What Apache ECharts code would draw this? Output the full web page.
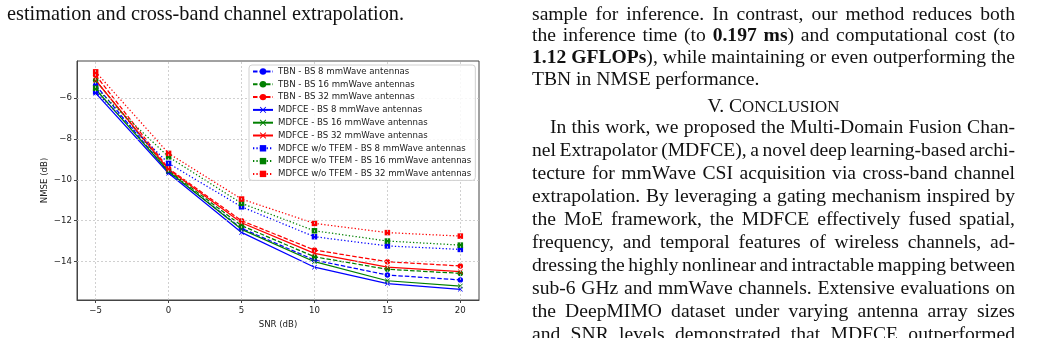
<!DOCTYPE html>
<html>
<head>
<meta charset="utf-8">
<script src="https://cdn.jsdelivr.net/npm/echarts@6/dist/echarts.min.js"></script>
<style>
  html, body { margin: 0; padding: 0; background: #fff; }
  #wrap { position: relative; width: 1041px; height: 338px; overflow: hidden; background: #fff; }
  #chart { position: absolute; left: 0; top: 0; width: 1041px; height: 338px; }
  .t { position: absolute; font-family: "Liberation Serif", "Times New Roman", serif; font-size: 19.6px; line-height: 21.67px; color: #111; white-space: nowrap; }
</style>
</head>
<body>
<div id="wrap">
  <div id="chart"></div>
  <div id="txt"></div>
</div>
<script>
// ---- data ----
const snr = [-5, 0, 5, 10, 15, 20];
const xTicks = [-5, 0, 5, 10, 15, 20];
const yTicks = [-14, -12, -10, -8, -6];

const tbn8   = [-5.38, -9.62, -12.37, -13.92, -14.65, -14.89];
const tbn16  = [-5.14, -9.55, -12.24, -13.76, -14.37, -14.57];
const tbn32  = [-4.89, -9.45, -12.00, -13.43, -14.00, -14.21];
const mdfce8  = [-5.77, -9.68, -12.57, -14.27, -15.07, -15.35];
const mdfce16 = [-5.58, -9.60, -12.42, -14.00, -14.93, -15.19];
const mdfce32 = [-5.14, -9.50, -12.10, -13.59, -14.27, -14.49];
const wo8  = [-5.71, -9.20, -11.32, -12.78, -13.23, -13.40];
const wo16 = [-5.53, -8.88, -11.15, -12.49, -12.99, -13.19];
const wo32 = [-4.73, -8.71, -10.94, -12.13, -12.58, -12.75];

const names = [
  'TBN - BS 8 mmWave antennas',
  'TBN - BS 16 mmWave antennas',
  'TBN - BS 32 mmWave antennas',
  'MDFCE - BS 8 mmWave antennas',
  'MDFCE - BS 16 mmWave antennas',
  'MDFCE - BS 32 mmWave antennas',
  'MDFCE w/o TFEM - BS 8 mmWave antennas',
  'MDFCE w/o TFEM - BS 16 mmWave antennas',
  'MDFCE w/o TFEM - BS 32 mmWave antennas'
];

// ---- page text ----
const leftLines = ['estimation and cross-band channel extrapolation.'];
const rightPara1 = [
  'sample for inference. In contrast, our method reduces both',
  'the inference time (to <b>0.197 ms</b>) and computational cost (to',
  '<b>1.12 GFLOPs</b>), while maintaining or even outperforming the',
  'TBN in NMSE performance.'
];
const heading = 'V. C<span style="font-size:0.86em">ONCLUSION</span>';
const rightPara2 = [
  'In this work, we proposed the Multi-Domain Fusion Chan-',
  'nel Extrapolator (MDFCE), a novel deep learning-based archi-',
  'tecture for mmWave CSI acquisition via cross-band channel',
  'extrapolation. By leveraging a gating mechanism inspired by',
  'the MoE framework, the MDFCE effectively fused spatial,',
  'frequency, and temporal features of wireless channels, ad-',
  'dressing the highly nonlinear and intractable mapping between',
  'sub-6 GHz and mmWave channels. Extensive evaluations on',
  'the DeepMIMO dataset under varying antenna array sizes',
  'and SNR levels demonstrated that MDFCE outperformed'
];

const justified = [];
(function buildText() {
  const box = document.getElementById('txt');
  function add(html, left, top, target, extraStyle) {
    const d = document.createElement('div');
    d.className = 't';
    d.style.left = left + 'px';
    d.style.top = top + 'px';
    if (extraStyle) Object.assign(d.style, extraStyle);
    d.innerHTML = html;
    box.appendChild(d);
    if (target) justified.push([d, target]);
    return d;
  }
  add(leftLines[0], 7, 3.0, null, { fontSize: '20.3px' });
  const L = 532, R = 1015;
  rightPara1.forEach((s, i) => {
    const last = i === rightPara1.length - 1;
    add(s, L, 2.7 + i * 21.67, last ? null : R - L);
  });
  const h = add(heading, L, 95.4, null);
  h.style.width = (R - L) + 'px';
  h.style.textAlign = 'center';
  rightPara2.forEach((s, i) => {
    const ind = i === 0 ? 18 : 0;
    add(s, L + ind, 115.6 + i * 23, R - L - ind);
  });
})();
function justify() {
  justified.forEach(([d, target]) => {
    d.style.wordSpacing = '0px';
    const w = d.getBoundingClientRect().width;
    const n = (d.textContent.match(/ /g) || []).length;
    if (n > 0) d.style.wordSpacing = ((target - w) / n) + 'px';
  });
}
justify();
if (document.fonts && document.fonts.ready) document.fonts.ready.then(justify);

// ---- chart ----
const X_PATH = 'path://M0,1 L1,0 L5,4 L9,0 L10,1 L6,5 L10,9 L9,10 L5,6 L1,10 L0,9 L4,5 Z';
const colors = ['#0000ff', '#008000', '#ff0000'];
function mk(name, vals, color, kind) {
  let symbol, dash, size;
  if (kind === 'tbn') { symbol = 'circle'; dash = [4.5, 2]; size = 5.5; }
  else if (kind === 'mdfce') { symbol = X_PATH; dash = 'solid'; size = 5; }
  else { symbol = 'rect'; dash = [1.3, 2.1]; size = 5.5; }
  return {
    name: name, type: 'line',
    data: snr.map((x, i) => [x, vals[i]]),
    symbol: symbol, symbolSize: size, showSymbol: true,
    lineStyle: { color: color, width: 1.25, type: dash },
    itemStyle: { color: color, borderWidth: 0 },
    emphasis: { disabled: true },
    animation: false, z: 3
  };
}
const series = [
  mk(names[0], tbn8, colors[0], 'tbn'),
  mk(names[1], tbn16, colors[1], 'tbn'),
  mk(names[2], tbn32, colors[2], 'tbn'),
  mk(names[3], mdfce8, colors[0], 'mdfce'),
  mk(names[4], mdfce16, colors[1], 'mdfce'),
  mk(names[5], mdfce32, colors[2], 'mdfce'),
  mk(names[6], wo8, colors[0], 'wo'),
  mk(names[7], wo16, colors[1], 'wo'),
  mk(names[8], wo32, colors[2], 'wo')
];
series.unshift({
  name: '__grid', type: 'line', data: [[-100, -100]], showSymbol: false,
  lineStyle: { width: 0, opacity: 0 }, z: 1, silent: true, animation: false,
  markLine: {
    silent: true, animation: false, symbol: ['none', 'none'],
    label: { show: false },
    lineStyle: { color: '#c4c4c4', type: [2, 2], width: 0.8 },
    data: xTicks.map(v => ({ xAxis: v })).concat(yTicks.map(v => ({ yAxis: v })))
  }
});

const fmt = v => String(v).replace('-', '\u2212');
const axisCol = '#444';
const chart = echarts.init(document.getElementById('chart'), null, { renderer: 'canvas' });
chart.setOption({
  backgroundColor: '#fff',
  animation: false,
  textStyle: { fontFamily: 'DejaVu Sans' },
  grid: { left: 77, top: 61, width: 402, height: 239, show: true, borderColor: axisCol, borderWidth: 1, backgroundColor: 'transparent' },
  xAxis: {
    type: 'value', min: -6.28, max: 21.28,
    name: 'SNR (dB)', nameLocation: 'middle', nameGap: 18,
    nameTextStyle: { fontFamily: 'DejaVu Sans', fontSize: 8.6, color: '#222' },
    axisLine: { show: true, onZero: false, lineStyle: { color: axisCol, width: 1 } },
    axisTick: { show: true, inside: false, length: 3, customValues: xTicks, lineStyle: { color: axisCol } },
    axisLabel: { show: true, customValues: xTicks, margin: 6, formatter: fmt, fontFamily: 'DejaVu Sans', fontSize: 8.6, color: '#222' },
    splitLine: { show: false }
  },
  yAxis: {
    type: 'value', min: -15.87, max: -4.2,
    name: 'NMSE (dB)', nameLocation: 'middle', nameGap: 28,
    nameTextStyle: { fontFamily: 'DejaVu Sans', fontSize: 8.6, color: '#222' },
    axisLine: { show: true, onZero: false, lineStyle: { color: axisCol, width: 1 } },
    axisTick: { show: true, inside: false, length: 3, customValues: yTicks, lineStyle: { color: axisCol } },
    axisLabel: { show: true, customValues: yTicks, margin: 5, formatter: fmt, fontFamily: 'DejaVu Sans', fontSize: 8.6, color: '#222' },
    splitLine: { show: false }
  },
  legend: {
    data: names,
    orient: 'vertical', left: 249, top: 65,
    itemWidth: 20, itemHeight: 8, itemGap: 3.8,
    padding: [2, 4, 2, 3],
    backgroundColor: 'rgba(255,255,255,0.85)',
    borderColor: '#d0d0d0', borderWidth: 1, borderRadius: 3,
    textStyle: { fontFamily: 'DejaVu Sans', fontSize: 8.6, color: '#222', padding: [0, 0, 0, 0] },
    selectedMode: false, z: 10
  },
  series: series
});
</script>
</body>
</html>
